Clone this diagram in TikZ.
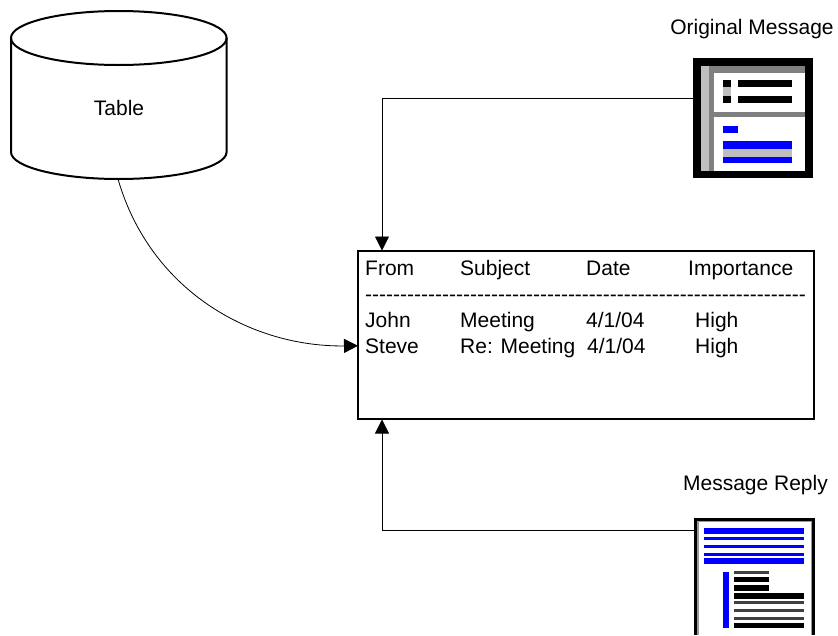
\documentclass[tikz,border=0pt]{standalone}
\usepackage{fontspec}
\setmainfont{Liberation Sans}
\newfontfamily\plainfont{Liberation Sans}
\definecolor{iconblue}{RGB}{0,0,255}
\usetikzlibrary{arrows.meta,calc}
\tikzset{
	label text/.style={anchor=base west, inner sep=0pt, font=\fontsize{21}{24}\selectfont},
	link/.style={draw=black, line width=0.8pt, -{Triangle[length=14pt,width=14pt]}},
}

\begin{document}
\begin{tikzpicture}[x=1pt, y=-1pt]
	%%%%% FRAME %%%%%
	\useasboundingbox (0, 0) rectangle (838, 635);
	
	%%%%% TABLE %%%%%
	\draw[line width=2pt, fill=white] (11, 38) -- (11, 152) arc[x radius=107.8, y radius=-27, start angle=180, end angle=360] -- (226.6, 38);
	\draw[line width=2pt] (118.8, 38) ellipse[x radius=107.8, y radius=27];
	\node[label text, anchor=base] (table) at (119, 115) {Table};
	\coordinate (tableout) at (118, 179);
	
	%%%%% LIST %%%%%
	\node[draw, line width=1.7pt, outer sep=0pt, minimum width=456pt, minimum height=168pt, inner sep=0pt, anchor=north west] (list) at (358, 251) {};
	
	\node[label text] (from) at (365, 275.5) {From};
	\node[label text] (subject) at (460, 275.5) {Subject};
	\node[label text] (date) at (586, 275.5) {Date};
	\node[label text] (importance) at (688, 275.5) {Importance};
	\node[label text] (dashes) at (365, 301) {\plainfont ---------------------------------------------------------------};
	\node[label text] (john) at (365, 327) {John};
	\node[label text] (meeting) at (460, 327) {Meeting};
	\node[label text] (date1) at (586, 327) {4/1/04};
	\node[label text] (high1) at (695, 327) {High};
	\node[label text] (steve) at (365, 353) {Steve};
	\node[label text] (reply) at (460, 353) {Re: Meeting};
	\node[label text] (date2) at (587, 353) {4/1/04};
	\node[label text] (high2) at (695, 353) {High};
	
	%%%%% ORIGINAL MESSAGE %%%%%
	\node[label text, anchor=base] (original) at (752, 34) {Original Message};
	\fill[black] (693, 58) rectangle (813, 178);
	\fill[white] (701, 66) rectangle (805, 171);
	\fill[black!25] (701, 66) rectangle (709, 171);
	\fill[black!50] (709, 66) rectangle (714, 171);
	\fill[black!50] (709, 66) rectangle (805, 73);
	\fill[black!50] (714, 112) rectangle (805, 117);
	\fill[black!25] (723, 87) rectangle (731, 96);
	\fill[black] (723, 80) rectangle (731, 87);
	\fill[black] (723, 96) rectangle (731, 103);
	\fill[black] (738, 80) rectangle (792, 87);
	\fill[black] (738, 96) rectangle (792, 103);
	\fill[iconblue] (723, 126) rectangle (738, 133);
	\fill[black!25] (723, 149) rectangle (792, 157);
	\fill[iconblue] (723, 141) rectangle (792, 149);
	\fill[iconblue] (723, 157) rectangle (792, 163);
	\coordinate (originalout) at (693, 98);
	
	%%%%% MESSAGE REPLY %%%%%
	\node[label text, anchor=base] (replylabel) at (755.5, 490) {Message Reply};
	\fill[black] (694, 518) rectangle (815, 635);
	\fill[black!40] (697, 521) rectangle (812, 635);
	\fill[white] (698.5, 522) rectangle (811, 635);
	\fill[iconblue] (704, 528) rectangle (804, 534);
	\fill[iconblue] (704, 537) rectangle (804, 539.5);
	\fill[iconblue] (704, 545) rectangle (804, 548);
	\fill[iconblue] (704, 553) rectangle (804, 555.5);
	\fill[iconblue] (704, 558) rectangle (804, 564);
	\fill[iconblue] (723, 572) rectangle (729, 628);
	\fill[black!75] (734, 571) rectangle (769, 574);
	\fill[black] (734, 577) rectangle (769, 582);
	\fill[black] (734, 585) rectangle (769, 591);
	\fill[black] (734, 593) rectangle (804, 599);
	\fill[black!75] (734, 601) rectangle (804, 604);
	\fill[black!75] (734, 609) rectangle (804, 612);
	\fill[black!75] (734, 617) rectangle (804, 620);
	\fill[black] (734, 623) rectangle (804, 628);
	\coordinate (replyout) at (694, 530);
	
	%%%%% LINKS %%%%%
	\draw[link] (originalout) -| ($(list.north west)+(24, -0.5)$);
	\draw[link] (replyout) -| ($(list.south west)+(24, 0.5)$);
	\draw[link] (tableout) .. controls (150, 290) and (250, 347) .. (list.west |- steve.west);
\end{tikzpicture}
\end{document}
